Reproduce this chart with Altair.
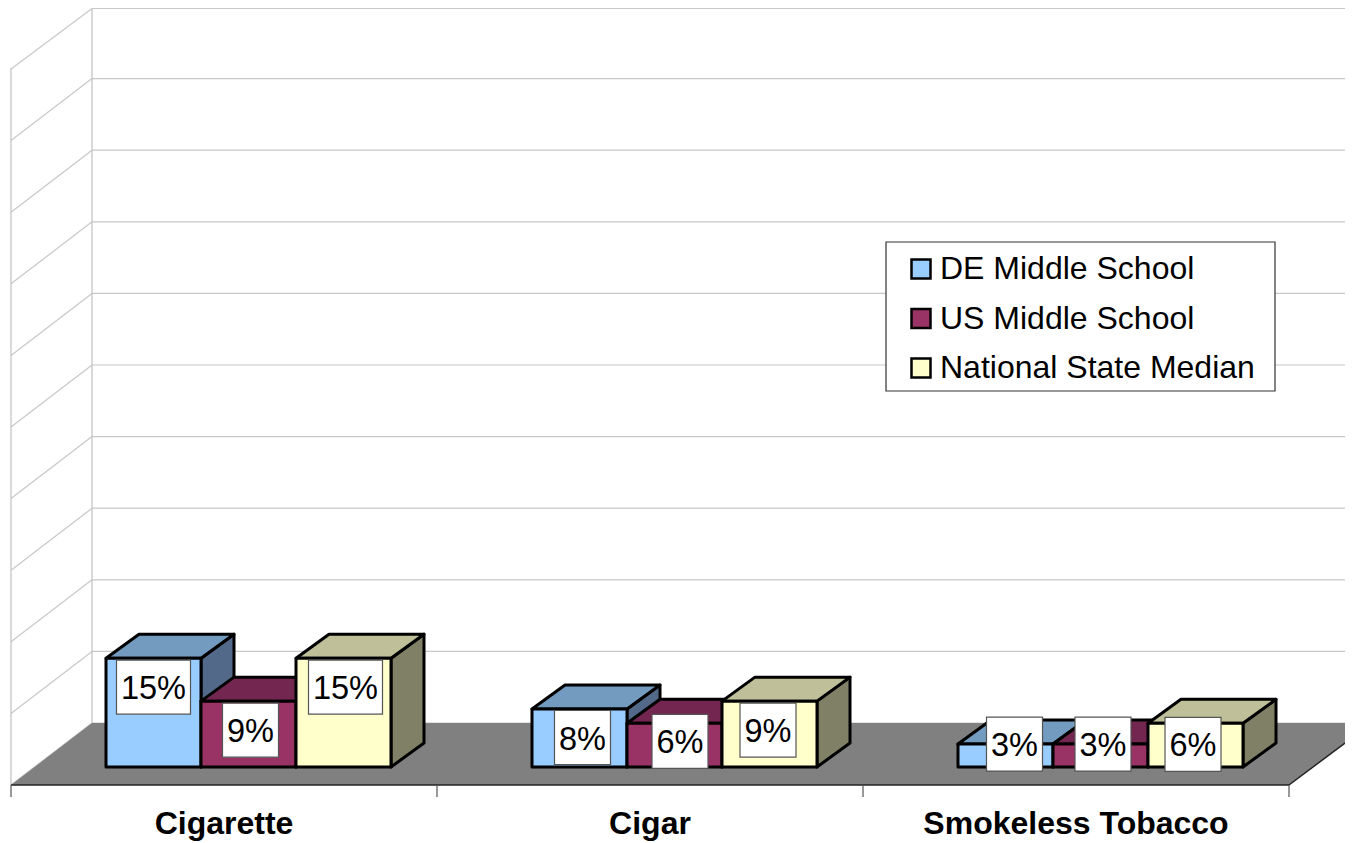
import altair as alt
import pandas as pd

categories = ["Cigarette", "Cigar", "Smokeless Tobacco"]
series = ["DE Middle School", "US Middle School", "National State Median"]
de_values = [15.2, 8.1, 3.2]
us_values = [9.2, 6.1, 3.2]
nat_values = [15.2, 9.2, 6.1]
grid_levels = [0, 10, 20, 30, 40, 50, 60, 70, 80, 90, 100]
front_colors = ["#99CCFF", "#993366", "#FFFFCC"]
top_colors = ["#739ABF", "#732650", "#BFBF99"]
side_colors = ["#52698A", "#5C1F3D", "#808066"]
# label box shifts, px from bar centre / bar top
label_dx = [[0, 2, 2], [3, 5.5, -1.5], [9, 2.5, -2.5]]
label_dy = [[29, 29, 29], [28.5, 18, 29], [0, 0, 21]]

PW, PH = 1337, 833
PX_UNIT = 426.0   # px per category
PX_PCT = 7.16     # px per percent

def X(px):
    return (px - 11) / PX_UNIT

def V(py):
    return (767 - py) / PX_PCT

xs = alt.Scale(domain=[X(8), X(8 + PW)], nice=False, zero=False)
ys = alt.Scale(domain=[V(8 + PH), V(8)], nice=False, zero=False)
ex = lambda f="x": alt.X(f"{f}:Q", scale=xs, axis=None)
ey = lambda f="y": alt.Y(f"{f}:Q", scale=ys, axis=None)
x2 = alt.X2("x2:Q")
y2 = alt.Y2("y2:Q")

BAR_W = 95 / PX_UNIT
BAR_OFF = 95 / PX_UNIT
DX = 33 / PX_UNIT
DV = 24 / PX_PCT
FONT = "Liberation Sans"

layers = []

def segs(rows, color, width):
    return alt.Chart(pd.DataFrame(rows)).mark_rule(stroke=color, strokeWidth=width).encode(
        x=ex(), x2=x2, y=ey(), y2=y2)

# walls
grid_rows, diag_rows = [], []
for g in grid_levels:
    py = max(723 - g * PX_PCT, 8.5)
    grid_rows.append({"x": X(92), "x2": X(1360), "y": V(py), "y2": V(py)})
    diag_rows.append({"x": X(92), "x2": X(11), "y": V(py), "y2": V(723 - g * PX_PCT + 62)})
layers.append(segs(grid_rows, "#C8C8C8", 1.2))
layers.append(segs(diag_rows, "#C8C8C8", 1.2))
layers.append(segs([
    {"x": X(92), "x2": X(92), "y": V(8.5), "y2": V(723)},
    {"x": X(11), "x2": X(11), "y": V(68), "y2": V(785)},
], "#C0C0C0", 1.2))

# floor
floor = pd.DataFrame([
    {"y": V(723), "x": X(92), "x2": X(1372)},
    {"y": V(785), "x": X(11), "x2": X(1289)},
])
layers.append(alt.Chart(floor).mark_area(orient="horizontal", color="#808080").encode(
    y=ey(), x=ex(), x2=x2))
layers.append(segs([
    {"x": X(11), "x2": X(1289), "y": V(785), "y2": V(785)},
    {"x": X(1289), "x2": X(1345), "y": V(785), "y2": V(743)},
], "#222222", 1.5))
layers.append(segs([
    {"x": i, "x2": i, "y": V(785), "y2": V(797)} for i in range(4)
], "#555555", 1.2))

# legend frame
layers.append(alt.Chart(pd.DataFrame([
    {"x": X(886), "x2": X(1275), "y": V(242), "y2": V(391)}
])).mark_rect(fill="white", stroke="#333333", strokeWidth=1.2).encode(
    x=ex(), x2=x2, y=ey(), y2=y2))

# bars, back to front
all_values = [de_values, us_values, nat_values]
color_enc = alt.Color(
    "series:N",
    scale=alt.Scale(domain=series, range=front_colors),
    legend=alt.Legend(
        title=None, orient="none", legendX=911 - 8 - 6, legendY=268 - 8 - 15, padding=0,
        symbolType="square", symbolSize=361, symbolStrokeColor="black",
        symbolStrokeWidth=2.5, labelFont=FONT, labelFontSize=32, labelColor="black",
        labelOffset=3, rowPadding=17.5, labelLimit=500, zindex=1,
    ),
)
stroke = dict(stroke="black", strokeWidth=3, strokeJoin="round")
for s, vals in enumerate(all_values):
    for c, v in enumerate(vals):
        x0 = c + 95 / PX_UNIT + s * BAR_OFF
        x1 = x0 + BAR_W
        side = pd.DataFrame([
            {"x": x1, "y": v, "y2": 0},
            {"x": x1 + DX, "y": v + DV, "y2": DV},
        ])
        top = pd.DataFrame([
            {"y": v, "x": x0, "x2": x1},
            {"y": v + DV, "x": x0 + DX, "x2": x1 + DX},
        ])
        front = pd.DataFrame([{"x": x0, "x2": x1, "y": v, "y2": 0, "series": series[s]}])
        layers.append(alt.Chart(side).mark_area(fill=side_colors[s], **stroke).encode(
            x=ex(), y=ey(), y2=y2))
        layers.append(alt.Chart(top).mark_area(orient="horizontal", fill=top_colors[s], **stroke).encode(
            y=ey(), x=ex(), x2=x2))
        layers.append(alt.Chart(front).mark_rect(**stroke).encode(
            x=ex(), x2=x2, y=ey(), y2=y2, color=color_enc))

# value labels
box_rows, text_rows = [], []
for s, vals in enumerate(all_values):
    for c, v in enumerate(vals):
        cx = c + 95 / PX_UNIT + (s + 0.5) * BAR_OFF + label_dx[c][s] / PX_UNIT
        cy = v - label_dy[c][s] / PX_PCT
        txt = f"{round(v)}%"
        hw = (37 if len(txt) == 3 else 28) / PX_UNIT
        hh = 27 / PX_PCT
        box_rows.append({"x": cx - hw, "x2": cx + hw, "y": cy + hh, "y2": cy - hh})
        text_rows.append({"x": cx, "y": cy - 2 / PX_PCT, "t": txt})
layers.append(alt.Chart(pd.DataFrame(box_rows)).mark_rect(
    fill="white", stroke="#555555", strokeWidth=1.2).encode(
    x=ex(), x2=x2, y=ey(), y2=y2))
layers.append(alt.Chart(pd.DataFrame(text_rows)).mark_text(
    font=FONT, fontSize=32.5, color="black", baseline="middle", align="center").encode(
    x=ex(), y=ey(), text="t:N"))

# category labels
cat_rows = [{"x": i + 0.5, "y": V(823.5), "t": c} for i, c in enumerate(categories)]
layers.append(alt.Chart(pd.DataFrame(cat_rows)).mark_text(
    font=FONT, fontSize=32, fontWeight="bold", color="black", baseline="middle", align="center").encode(
    x=ex(), y=ey(), text="t:N"))

chart = alt.layer(*layers).properties(
    width=PW, height=PH, padding=0,
    autosize=alt.AutoSizeParams(type="none"),
    background="white",
).configure_view(stroke=None)

chart.save("out.html", embed_options={"renderer": "svg", "actions": False})
